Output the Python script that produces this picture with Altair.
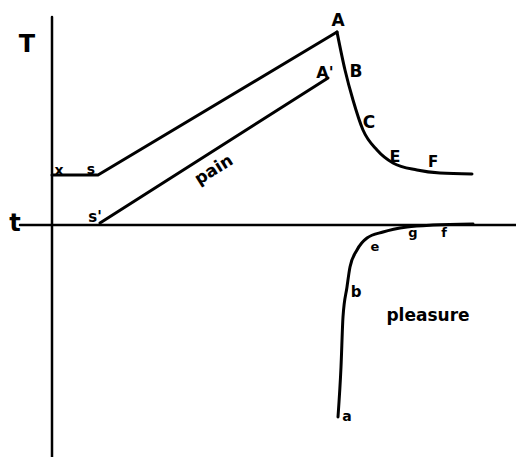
import altair as alt
import pandas as pd

# upper curve: rest level x-s, rise s-A (straight)
rise_t = [0.0, 4.6, 28.5]
rise_v = [5.0, 5.0, 19.3]
# decay A-B-C-E-F
decay_t = [28.5, 29.3, 30.1, 31.1, 32.5, 34.1, 36.5, 38.8, 42.0]
decay_v = [19.3, 15.5, 12.5, 9.5, 7.5, 6.2, 5.5, 5.2, 5.1]

# pain line s'-A'
pain_t = [4.8, 27.6]
pain_v = [0.2, 14.7]

# pleasure curve a-b-e-g-f
pleas_t = [28.6, 28.9, 29.1, 29.5, 29.8, 30.5, 31.5, 33.1, 35.5, 38.1, 42.1]
pleas_v = [-19.2, -14.2, -9.2, -6.2, -4.2, -2.5, -1.3, -0.7, -0.2, 0.0, 0.1]

# axes
vaxis_t = [0.0, 0.0]
vaxis_v = [20.8, -24.0]
haxis_t = [-3.2, 47.2]
haxis_v = [0.0, 0.0]

# labels
lab_text = ["x", "s", "s'", "A", "A'", "B", "C", "E", "F", "a", "b", "e", "g", "f"]
lab_t = [0.7, 3.9, 4.3, 28.6, 27.3, 30.4, 31.7, 34.3, 38.1, 29.5, 30.4, 32.3, 36.1, 39.2]
lab_v = [5.4, 5.5, 0.8, 20.4, 15.2, 15.3, 10.2, 6.8, 6.3, -19.2, -6.7, -2.2, -0.8, -0.8]
lab_size = [14, 14, 15, 17, 16, 17, 17, 16, 15, 14, 15, 13, 13, 13]

axis_text = ["T", "t"]
axis_t = [-2.5, -3.7]
axis_v = [18.0, 0.1]

word_text = ["pain", "pleasure"]
word_t = [16.2, 37.6]
word_v = [5.5, -9.1]
word_angle = [328, 0]

X = alt.Scale(domain=[-4.4, 46.4], nice=False, zero=False)
Y = alt.Scale(domain=[-23.2, 21.7], nice=False, zero=False)

def line_df(ts, vs):
    return pd.DataFrame({"t": ts, "v": vs, "o": list(range(len(ts)))})

def line(df, w, interp):
    return alt.Chart(df).mark_line(color="black", strokeWidth=w, interpolate=interp,
                                   strokeJoin="round", strokeCap="round").encode(
        x=alt.X("t:Q", scale=X, axis=None),
        y=alt.Y("v:Q", scale=Y, axis=None),
        order="o:Q",
    )

ax_v = line(line_df(vaxis_t, vaxis_v), 2.5, "linear")
ax_h = line(line_df(haxis_t, haxis_v), 2.5, "linear")
rise = line(line_df(rise_t, rise_v), 3, "linear")
decay = line(line_df(decay_t, decay_v), 3, "monotone")
pn = line(line_df(pain_t, pain_v), 3, "linear")
pl = line(line_df(pleas_t, pleas_v), 3, "monotone")

labels_df = pd.DataFrame({"t": lab_t, "v": lab_v, "txt": lab_text, "size": lab_size})
labels = alt.Chart(labels_df).mark_text(font="DejaVu Sans", fontWeight="bold", color="black").encode(
    x=alt.X("t:Q", scale=X, axis=None), y=alt.Y("v:Q", scale=Y, axis=None),
    text="txt:N", size=alt.Size("size:Q", scale=None, legend=None))

axis_df = pd.DataFrame({"t": axis_t, "v": axis_v, "txt": axis_text})
axlabels = alt.Chart(axis_df).mark_text(font="DejaVu Sans", fontWeight="bold", fontSize=24, color="black").encode(
    x=alt.X("t:Q", scale=X, axis=None), y=alt.Y("v:Q", scale=Y, axis=None), text="txt:N")

word_df = pd.DataFrame({"t": word_t, "v": word_v, "txt": word_text, "ang": word_angle})
words = alt.Chart(word_df).mark_text(font="DejaVu Sans", fontWeight="bold", fontSize=17, color="black").encode(
    x=alt.X("t:Q", scale=X, axis=None), y=alt.Y("v:Q", scale=Y, axis=None), text="txt:N",
    angle=alt.Angle("ang:Q", scale=None))

chart = alt.layer(ax_v, ax_h, rise, decay, pn, pl, labels, axlabels, words).properties(
    width=508, height=449, autosize=alt.AutoSizeParams(type="none"), padding=0, background="white"
).configure_view(stroke=None)

chart.save("out.html", embed_options={"renderer": "svg", "actions": False})
